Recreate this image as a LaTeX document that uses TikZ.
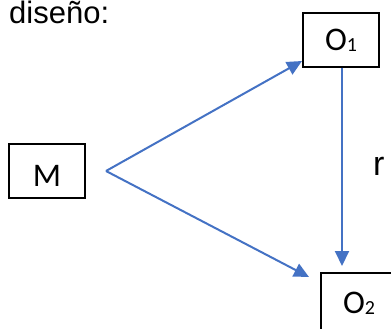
\documentclass[tikz,border=0pt]{standalone}
\usepackage{fontspec}
\setmainfont{Liberation Sans}
\newfontfamily\calib{Carlito}
\usetikzlibrary{arrows.meta}
\definecolor{arrowblue}{HTML}{4472C4}
\tikzset{
  box/.style={draw=black,line width=1.1pt,minimum width=76pt,minimum height=54pt,inner sep=0pt,
    font=\calib\fontsize{33}{33}\selectfont},
  conn/.style={draw=arrowblue,line width=2pt,-{Triangle[length=15pt,width=14pt]}},
  lbl/.style={inner sep=0pt,anchor=base west}
}
\newcommand{\sbs}[1]{{\fontsize{20}{20}\selectfont\raisebox{-1pt}{#1}}}
\begin{document}
\begin{tikzpicture}[x=1pt,y=-1pt]
\useasboundingbox (0,0) rectangle (391,329);
\node[lbl,font=\fontsize{31}{31}\selectfont] (title) at (9,23.5) {diseño:};
\node[box,text height=31pt,text depth=0pt] (M) at (47,171) {M};
\node[box] (O1) at (341,40) {O\sbs{1}};
\begin{scope}
\clip (0,0) rectangle (391,329);
\node[box,minimum height=60pt] (O2) at (359,303) {O\sbs{2}};
\end{scope}
\node[lbl,font=\fontsize{34}{34}\selectfont] (r) at (373,175) {r};
\coordinate (s) at (106,171);
\coordinate (t1) at (302,61);
\coordinate (t2) at (309,277);
\coordinate (t3) at (342,266);
\draw[conn] (s) -- (t1);
\draw[conn] (s) -- (t2);
\draw[conn] (O1.south -| t3) -- (t3);
\end{tikzpicture}
\end{document}
